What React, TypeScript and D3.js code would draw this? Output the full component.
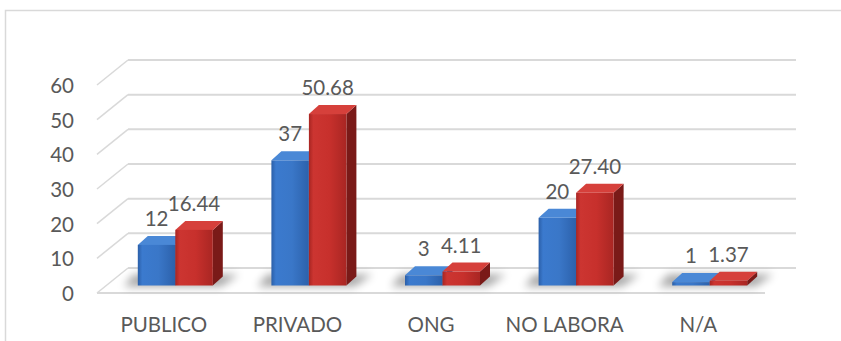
import React from "react";
import * as d3 from "d3";

// Categories and the two series
const categories = ["PUBLICO", "PRIVADO", "ONG", "NO LABORA", "N/A"];
const countValues = [12, 37, 3, 20, 1];
const percentValues = [16.44, 50.68, 4.11, 27.4, 1.37];
const countLabels = ["12", "37", "3", "20", "1"];
const percentLabels = ["16.44", "50.68", "4.11", "27.40", "1.37"];
const tickValues = [0, 10, 20, 30, 40, 50, 60];

const W = 841;
const H = 341;
const FONT = "Lato, 'Open Sans', sans-serif";
const TEXT = "#595959";
const GRID = "#d9d9d9";

// 3D box: floor depth offset and bar depth offset
const FLOOR_DX = 31;
const FLOOR_DY = -25;
const BAR_DX = 10;
const BAR_DY = -9;

export default function App() {
  // wall gridlines live on the back plane, the axis labels on the front edge
  const yBack = d3.scaleLinear().domain([0, 60]).range([268, 60]);
  const yFront = (v: number) => yBack(v) - FLOOR_DY;
  const frontLeft = 97;
  const frontRight = 765;

  const xFront = d3.scaleBand<string>().domain(categories).range([frontLeft, frontRight]);
  // bars stand a little inside the floor, so their band is shifted right
  const xBars = d3.scaleBand<string>().domain(categories).range([frontLeft + 11.5, frontRight + 11.5]);
  const barW = 37.5;

  // bar heights measured on the bar plane
  const barBase = 285.5;
  const yBar = d3.scaleLinear().domain([0, 60]).range([barBase, barBase - 203]);

  const series = [
    { key: "count", values: countValues, labels: countLabels, front: "url(#gBlue)", top: "#4a88d6", side: "#1f4b8a" },
    { key: "pct", values: percentValues, labels: percentLabels, front: "url(#gRed)", top: "#d6403b", side: "#7a1a18" },
  ];

  return (
    <svg width={W} height={H} style={{ display: "block", position: "absolute", left: 0, top: 0 }}>
      <defs>
        <linearGradient id="gBlue" x1="0" x2="1" y1="0" y2="0">
          <stop offset="0" stopColor="#2b5fa8" />
          <stop offset="0.12" stopColor="#3b7ace" />
          <stop offset="0.55" stopColor="#3a77c8" />
          <stop offset="1" stopColor="#2c61ab" />
        </linearGradient>
        <linearGradient id="gRed" x1="0" x2="1" y1="0" y2="0">
          <stop offset="0" stopColor="#a82522" />
          <stop offset="0.12" stopColor="#cc3531" />
          <stop offset="0.55" stopColor="#c7302c" />
          <stop offset="1" stopColor="#a92623" />
        </linearGradient>
        <filter id="shadowBlur" x="-50%" y="-200%" width="200%" height="500%">
          <feGaussianBlur stdDeviation="4" />
        </filter>
      </defs>

      {/* chart frame */}
      <rect x={5.5} y={10.5} width={W + 20} height={H + 20} fill="#fff" stroke={GRID} strokeWidth={1.5} />

      {/* back wall gridlines and left depth lines */}
      {tickValues.map((t) => (
        <g key={"g" + t}>
          <line x1={frontLeft + FLOOR_DX} x2={frontRight + FLOOR_DX} y1={yBack(t)} y2={yBack(t)} stroke={GRID} strokeWidth={2} />
          <line x1={frontLeft} x2={frontLeft + FLOOR_DX} y1={yFront(t)} y2={yBack(t)} stroke={GRID} strokeWidth={1.5} />
        </g>
      ))}
      {/* floor front edge */}
      <line x1={frontLeft} x2={frontRight} y1={yFront(0)} y2={yFront(0)} stroke={GRID} strokeWidth={2} />

      {/* tick labels */}
      {tickValues.map((t) => (
        <text key={"t" + t} x={74} y={yFront(t) + 8} textAnchor="end" fontFamily={FONT} fontSize={20.5} fill={TEXT}>
          {t}
        </text>
      ))}

      {/* soft floor shadows under each pair of bars */}
      {categories.map((c) => {
        const x0 = xBars(c)! + xBars.bandwidth() / 2 - barW;
        const x1 = x0 + 2 * barW;
        return (
          <polygon
            key={"s" + c}
            points={[
              [x0 - 14, barBase + 1],
              [x1 + 8, barBase + 1],
              [x1 + BAR_DX + 16, barBase + BAR_DY - 2],
              [x0 - 4, barBase + BAR_DY - 2],
            ].map((p) => p.join(",")).join(" ")}
            fill="#000"
            opacity={0.35}
            filter="url(#shadowBlur)"
          />
        );
      })}

      {/* bars */}
      {categories.map((c, i) => {
        const gx = xBars(c)! + xBars.bandwidth() / 2 - barW;
        return (
          <g key={"b" + c}>
            {series.map((s, j) => {
              const x0 = gx + j * barW;
              const yt = yBar(s.values[i]);
              const yb = barBase;
              const top = [
                [x0, yt],
                [x0 + barW, yt],
                [x0 + barW + BAR_DX, yt + BAR_DY],
                [x0 + BAR_DX, yt + BAR_DY],
              ];
              const side = [
                [x0 + barW, yt],
                [x0 + barW + BAR_DX, yt + BAR_DY],
                [x0 + barW + BAR_DX, yb + BAR_DY],
                [x0 + barW, yb],
              ];
              return (
                <g key={s.key}>
                  <polygon points={side.map((p) => p.join(",")).join(" ")} fill={s.side} />
                  <polygon points={top.map((p) => p.join(",")).join(" ")} fill={s.top} strokeLinejoin="round" />
                  <rect x={x0} y={yt} width={barW} height={yb - yt} fill={s.front} />
                </g>
              );
            })}
          </g>
        );
      })}

      {/* data labels */}
      {categories.map((c, i) => {
        const gx = xBars(c)! + xBars.bandwidth() / 2 - barW;
        return series.map((s, j) => (
          <text
            key={"l" + c + s.key}
            x={gx + j * barW + barW / 2}
            y={yBar(s.values[i]) - 19}
            textAnchor="middle"
            fontFamily={FONT}
            fontSize={20.5}
            fill={TEXT}
          >
            {s.labels[i]}
          </text>
        ));
      })}

      {/* category labels */}
      {categories.map((c) => (
        <text
          key={"c" + c}
          x={xFront(c)! + xFront.bandwidth() / 2}
          y={332}
          textAnchor="middle"
          fontFamily={FONT}
          fontSize={20.5}
          fill={TEXT}
        >
          {c}
        </text>
      ))}
    </svg>
  );
}
